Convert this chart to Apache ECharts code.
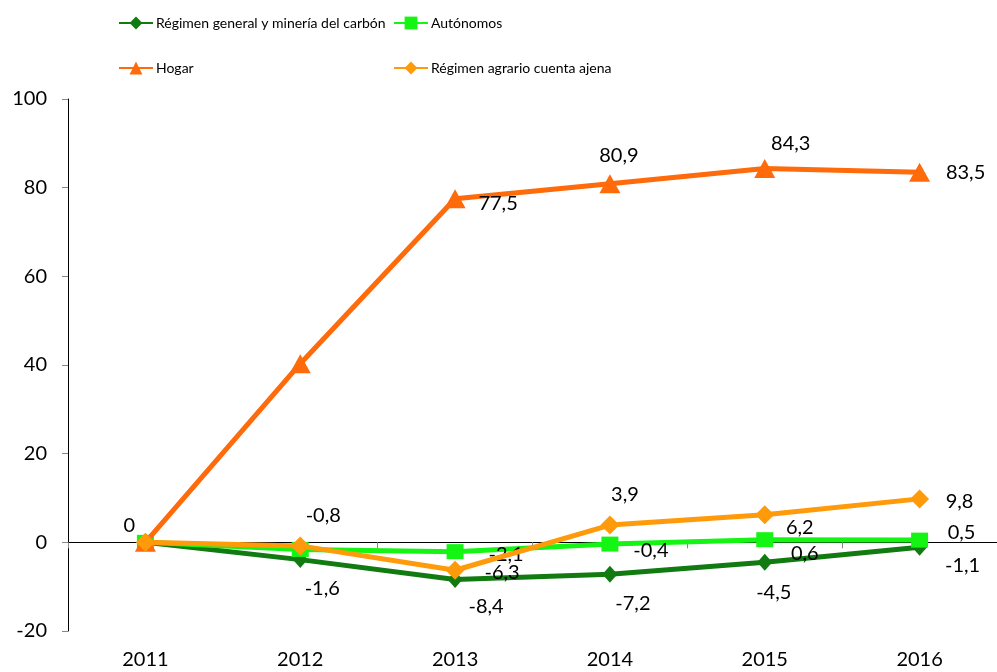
<!DOCTYPE html>
<html>
<head>
<meta charset="utf-8">
<title>Afiliación por régimen</title>
<script src="https://cdn.jsdelivr.net/npm/echarts@6/dist/echarts.min.js"></script>
<style>
  html, body { margin: 0; padding: 0; background: #fff; }
  #chart { width: 997px; height: 672px; }
</style>
</head>
<body>
<div id="chart"></div>
<script>
const years = ['2011', '2012', '2013', '2014', '2015', '2016']
const regimenGeneral = [0, -3.9, -8.4, -7.2, -4.5, -1.1]
const autonomos = [0, -1.6, -2.1, -0.4, 0.6, 0.5]
const hogar = [0, 40.3, 77.5, 80.9, 84.3, 83.5]
const agrario = [0, -0.8, -6.3, 3.9, 6.2, 9.8]
const yMin = -20
const yMax = 100
const yStep = 20

// where each data label sits, relative to its point (null = no label)
const generalLabelPos = [null, null, [31, 27], [23, 29], [9, 30], [43, 18]]
const autonomosLabelPos = [null, [22, 39], [51, 3], [41, 6], [40, 14], [42, -8]]
const hogarLabelPos = [[-16, -17], null, [43, 5], [9, -28], [26, -25], [46, 0]]
const agrarioLabelPos = [null, [23, -30], [47, 2], [15, -30], [35, 13], [40, 3]]

const font = 'Lato, "Open Sans", sans-serif'
const fmt = v => String(v).replace('.', ',')

function points(values, labelPos) {
  return values.map((v, i) => {
    const pos = labelPos[i]
    if (!pos) return { value: v, label: { show: false } }
    return {
      value: v,
      label: {
        show: true,
        position: 'inside',
        offset: pos,
        color: '#000',
        fontFamily: font,
        fontSize: 20,
        formatter: () => fmt(v)
      }
    }
  })
}

function legendAt(name, left, top) {
  return {
    data: [name],
    left: left,
    top: top,
    itemWidth: 34,
    itemHeight: 16,
    itemGap: 0,
    textStyle: { fontFamily: font, fontSize: 14, color: '#000', padding: [0, 0, 0, -2] }
  }
}

const chart = echarts.init(document.getElementById('chart'))
chart.setOption({
  animation: false,
  backgroundColor: '#fff',
  legend: [
    legendAt('Régimen general y minería del carbón', 113, 11),
    legendAt('Autónomos', 388, 11),
    legendAt('Hogar', 113, 56),
    legendAt('Régimen agrario cuenta ajena', 388, 56)
  ],
  grid: {
    left: 68,
    top: 99,
    width: 932,
    bottom: 41,
    containLabel: false
  },
  xAxis: [{
    type: 'category',
    data: years,
    position: 'bottom',
    axisLine: { show: false, onZero: false },
    axisTick: { show: false },
    axisLabel: { fontFamily: font, fontSize: 20, color: '#000', margin: 19 }
  }, {
    type: 'category',
    data: years,
    position: 'bottom',
    axisLine: { show: true, onZero: true, lineStyle: { color: '#000', width: 1 } },
    axisTick: { show: true, length: 6, lineStyle: { color: '#888' } },
    axisLabel: { show: false }
  }],
  yAxis: {
    type: 'value',
    min: yMin,
    max: yMax,
    interval: yStep,
    axisLine: { show: true, lineStyle: { color: '#000', width: 1 } },
    axisTick: { show: true, length: 6, lineStyle: { color: '#888' } },
    splitLine: { show: false },
    axisLabel: { fontFamily: font, fontSize: 20, color: '#000', margin: 21 }
  },
  series: [{
    name: 'Régimen general y minería del carbón',
    type: 'line',
    data: points(regimenGeneral, generalLabelPos),
    symbol: 'diamond',
    symbolSize: [15, 17],
    color: '#117a11',
    lineStyle: { width: 5, color: '#117a11' },
    itemStyle: { color: '#117a11' },
    z: 2
  }, {
    name: 'Autónomos',
    type: 'line',
    data: points(autonomos, autonomosLabelPos),
    symbol: 'rect',
    symbolSize: [17, 15],
    color: '#14f514',
    lineStyle: { width: 5, color: '#14f514' },
    itemStyle: { color: '#14f514' },
    z: 3
  }, {
    name: 'Hogar',
    type: 'line',
    data: points(hogar, hogarLabelPos),
    symbol: 'triangle',
    symbolSize: [21, 19],
    color: '#ff6a0a',
    lineStyle: { width: 5, color: '#ff6a0a' },
    itemStyle: { color: '#ff6a0a' },
    z: 4
  }, {
    name: 'Régimen agrario cuenta ajena',
    type: 'line',
    data: points(agrario, agrarioLabelPos),
    symbol: 'diamond',
    symbolSize: [19, 19],
    color: '#ff9a0a',
    lineStyle: { width: 5, color: '#ff9a0a' },
    itemStyle: { color: '#ff9a0a' },
    z: 5
  }]
})
</script>
</body>
</html>
